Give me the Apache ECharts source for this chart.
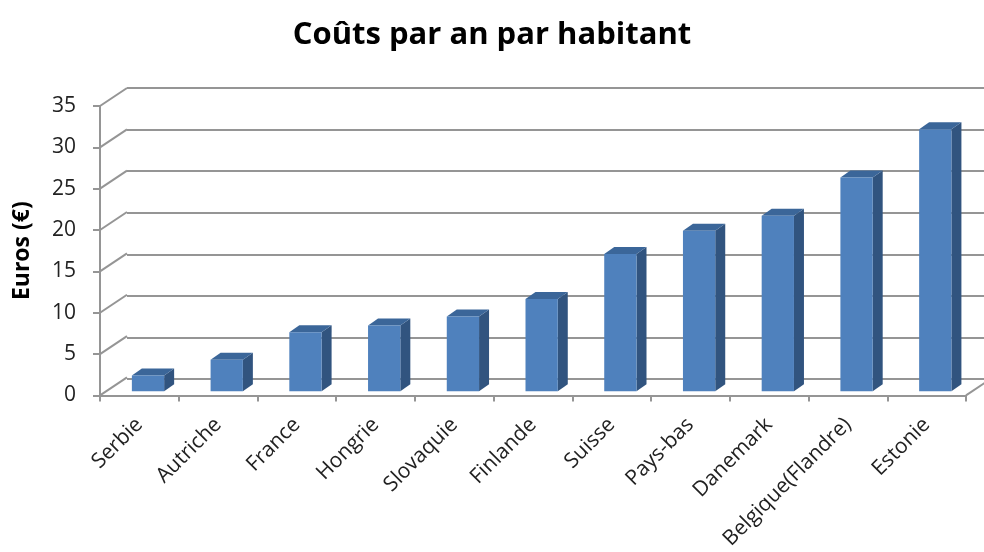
<!DOCTYPE html>
<html>
<head>
<meta charset="utf-8">
<script src="https://cdn.jsdelivr.net/npm/echarts@6/dist/echarts.min.js"></script>
<style>
  html, body { margin: 0; padding: 0; background: #fff; }
  #chart { width: 984px; height: 552px; }
</style>
</head>
<body>
<div id="chart"></div>
<script>
const categories = ['Serbie', 'Autriche', 'France', 'Hongrie', 'Slovaquie', 'Finlande', 'Suisse', 'Pays-bas', 'Danemark', 'Belgique(Flandre)', 'Estonie'];
const couts = [1.9, 3.8, 7.1, 7.9, 9.0, 11.1, 16.5, 19.3, 21.1, 25.7, 31.5];
const yTicks = [0, 5, 10, 15, 20, 25, 30, 35];

const FONT = '"Open Sans", "DejaVu Sans", sans-serif';
const GRIS = '#959595';
// décalage de profondeur (mur du fond) et profondeur des barres
const DX = 27, DY = -18;
const BDX = 10, BDY = -7;
const PLOT_W = 866, PLOT_H = 291;

const chart = echarts.init(document.getElementById('chart'));

const option = {
  animation: false,
  title: {
    text: 'Coûts par an par habitant',
    left: 'center',
    top: 15,
    textStyle: { fontFamily: FONT, fontSize: 31, fontWeight: 'bold', color: '#000' }
  },
  grid: [
    // mur du fond
    { left: 100 + DX, top: 106 + DY, width: PLOT_W, height: PLOT_H },
    // axes avant
    { left: 100, top: 106, width: PLOT_W, height: PLOT_H },
    // plan avant des barres
    { left: 100 + DX * 0.32, top: 106 + DY * 0.32, width: PLOT_W, height: PLOT_H }
  ],
  xAxis: [
    { gridIndex: 0, type: 'category', data: categories, show: false },
    {
      gridIndex: 1, type: 'category', data: categories,
      axisLine: { lineStyle: { color: GRIS, width: 2 } },
      axisTick: { show: true, length: 6, lineStyle: { color: GRIS, width: 2 } },
      axisLabel: { rotate: 45, margin: 26, fontFamily: FONT, fontSize: 21, color: '#222', interval: 0 }
    },
    { gridIndex: 2, type: 'category', data: categories, show: false }
  ],
  yAxis: [
    {
      gridIndex: 0, type: 'value', min: 0, max: 35, interval: 5,
      axisLine: { show: false }, axisTick: { show: false }, axisLabel: { show: false },
      splitLine: { lineStyle: { color: GRIS, width: 2 } }
    },
    {
      gridIndex: 1, type: 'value', min: 0, max: 35, interval: 5,
      name: 'Euros (€)', nameLocation: 'middle', nameGap: 66, nameRotate: 90,
      nameTextStyle: { fontFamily: FONT, fontSize: 23, fontWeight: 'bold', color: '#000' },
      axisLine: { show: true, lineStyle: { color: GRIS, width: 2 } },
      axisTick: { show: true, length: 7, lineStyle: { color: GRIS, width: 2 } },
      axisLabel: { margin: 24, fontFamily: FONT, fontSize: 21, color: '#222' },
      splitLine: { show: false }
    },
    { gridIndex: 2, type: 'value', min: 0, max: 35, interval: 5, show: false, splitLine: { show: false } }
  ],
  series: [
    {
      // arêtes diagonales du mur gauche et du sol
      type: 'custom',
      xAxisIndex: 1, yAxisIndex: 1,
      data: yTicks.map(v => [0, v]),
      silent: true,
      z: 1,
      renderItem: function (params, api) {
        const cs = params.coordSys;
        const v = api.value(1);
        const y = api.coord([0, v])[1];
        const children = [{
          type: 'line',
          shape: { x1: cs.x, y1: y, x2: cs.x + DX, y2: y + DY },
          style: { stroke: GRIS, lineWidth: 2 }
        }];
        if (v === 0) {
          children.push({
            type: 'line',
            shape: { x1: cs.x + cs.width, y1: y, x2: cs.x + cs.width + DX, y2: y + DY },
            style: { stroke: GRIS, lineWidth: 2 }
          });
        }
        return { type: 'group', children: children };
      }
    },
    {
      // barres 3D
      type: 'custom',
      xAxisIndex: 2, yAxisIndex: 2,
      data: couts.map((v, i) => [i, v]),
      z: 3,
      renderItem: function (params, api) {
        const base = api.coord([api.value(0), 0]);
        const top = api.coord([api.value(0), api.value(1)]);
        const w = api.size([1, 0])[0] * 0.41;
        const x0 = base[0] - w / 2, x1 = base[0] + w / 2;
        return {
          type: 'group',
          children: [
            {
              type: 'polygon',
              shape: { points: [[x1, top[1]], [x1 + BDX, top[1] + BDY], [x1 + BDX, base[1] + BDY], [x1, base[1]]] },
              style: { fill: '#31547f' }
            },
            {
              type: 'polygon',
              shape: { points: [[x0, top[1]], [x0 + BDX, top[1] + BDY], [x1 + BDX, top[1] + BDY], [x1, top[1]]] },
              style: { fill: '#3b6699' }
            },
            {
              type: 'rect',
              shape: { x: x0, y: top[1], width: w, height: base[1] - top[1] },
              style: { fill: '#4f81bd' }
            }
          ]
        };
      }
    }
  ]
};

chart.setOption(option);
</script>
</body>
</html>
